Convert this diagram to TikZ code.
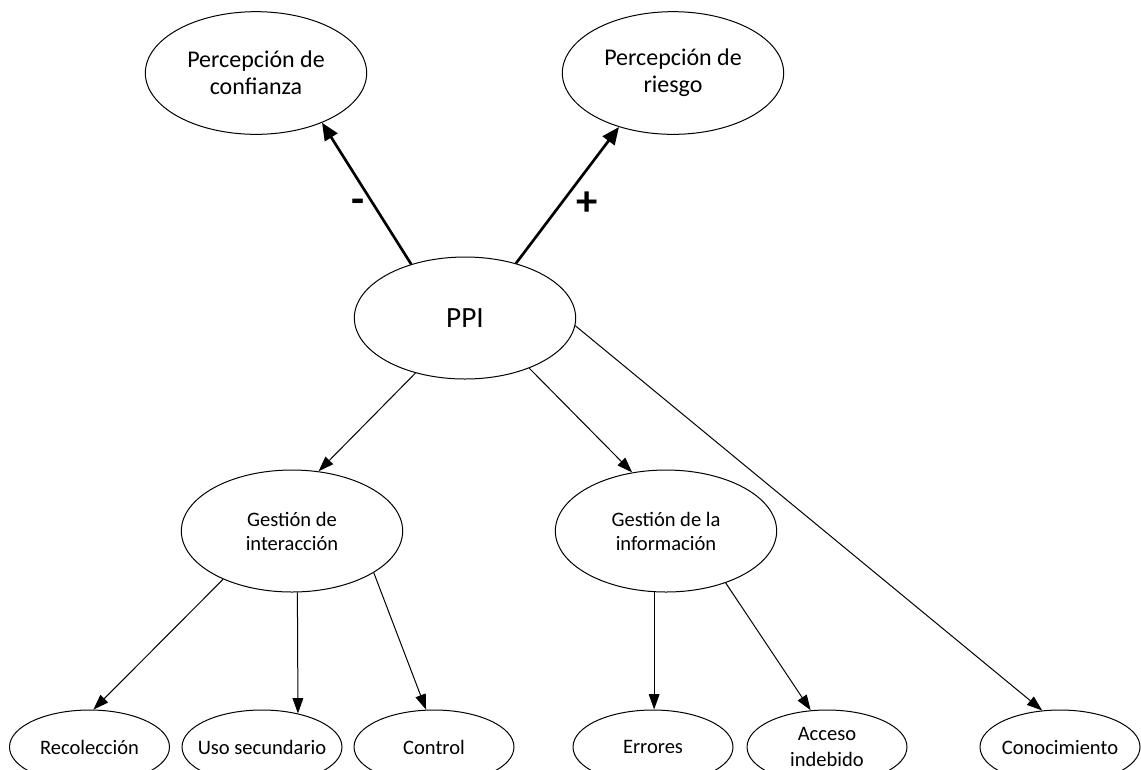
\documentclass[tikz,border=0pt]{standalone}
\usepackage{fontspec}
\setmainfont{Carlito}
\usepackage{tikz}
\usetikzlibrary{shapes.geometric, arrows.meta, positioning}
\tikzset{
  elip/.style={draw, ellipse, line width=0.75pt, align=center, inner sep=-10pt},
  topnode/.style={elip, minimum width=166pt, minimum height=92pt, font=\fontsize{18}{20.25}\selectfont},
  midnode/.style={elip, minimum width=166pt, minimum height=91.5pt, font=\fontsize{15.4}{18}\selectfont},
  leafnode/.style={elip, minimum width=120pt, minimum height=55.5pt, font=\fontsize{15.4}{19}\selectfont},
  arr/.style={-{Triangle[length=11.5pt, width=8pt]}, line width=0.75pt},
  tharr/.style={-{Triangle[length=13pt, width=11pt]}, line width=2pt},
  sign/.style={font=\fontsize{32}{36}\selectfont\bfseries, inner sep=0pt},
}

\begin{document}
\begin{tikzpicture}[x=0.75pt, y=-0.75pt]
  \useasboundingbox (0,0) rectangle (1141,769);
  \node[topnode] (conf) at (256,73) {Percepción de\\confianza};
  \node[topnode] (riesgo) at (673,73) {Percepción de\\riesgo};
  \node[elip, minimum width=166pt, minimum height=91.5pt, font=\fontsize{22}{26}\selectfont] (ppi) at (465,318) {PPI};
  \node[midnode] (inter) at (292,531) {Gestión de\\interacción};
  \node[midnode] (info) at (666,531) {Gestión de la\\información};
  \node[leafnode] (rec) at (89.5,747) {Recolección};
  \node[leafnode] (uso) at (262,747) {Uso secundario};
  \node[leafnode] (ctl) at (434,747) {Control};
  \node[leafnode] (err) at (653,747) {Errores};
  \node[leafnode] (acc) at (827,747) {Acceso\\indebido};
  \node[leafnode] (con) at (1060,747) {Conocimiento};
  \node[sign] (minus) at (358,206) {-};
  \node[sign] (plus) at (587,204) {+};
  \draw[tharr] (ppi.135.5) -- (conf.-37);
  \draw[tharr] (ppi.47.7) -- (riesgo.-135.5);
  \draw[arr] (ppi.-132) -- (inter.66);
  \draw[arr] (ppi.-38.4) -- (info.120);
  \draw[arr] (ppi.-4.7) -- (con.116);
  \draw[arr] (inter.-145.6) -- (rec.84);
  \draw[arr] (inter.-85) -- (uso.43);
  \draw[arr] (inter.-27.7) -- (ctl.102);
  \draw[arr] (info.-101) -- (info.-101 |- err.north);
  \draw[arr] (info.-41.9) -- (acc.114);
\end{tikzpicture}
\end{document}
